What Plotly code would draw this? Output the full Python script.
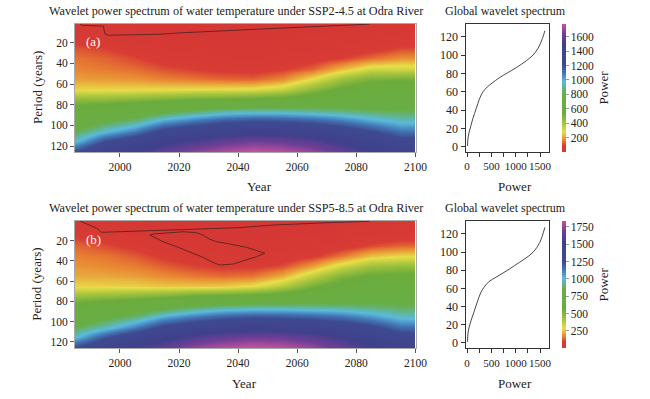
import plotly.graph_objects as go

# ---------------- data ----------------
years = [1985, 1995, 2005, 2015, 2025, 2035, 2045, 2055, 2065, 2075, 2085, 2095]
periods = [5, 15, 25, 35, 45, 55, 65, 75, 85, 95, 105, 115, 125]

# wavelet power, SSP2-4.5 (columns = years, rows = periods)
power_a_cols = [
    [25, 60, 115, 145, 165, 198, 265, 460, 600, 700, 820, 970, 1200],
    [14, 40, 90, 130, 155, 192, 265, 470, 640, 790, 960, 1200, 1400],
    [8, 22, 55, 100, 140, 185, 265, 490, 690, 860, 1080, 1330, 1480],
    [5, 12, 30, 60, 110, 165, 270, 520, 760, 1000, 1260, 1450, 1580],
    [5, 10, 20, 45, 90, 150, 275, 550, 820, 1080, 1340, 1520, 1670],
    [5, 10, 15, 35, 70, 135, 280, 560, 880, 1150, 1390, 1590, 1730],
    [5, 10, 15, 30, 65, 130, 285, 580, 900, 1180, 1430, 1630, 1770],
    [5, 10, 18, 40, 85, 170, 330, 600, 900, 1170, 1410, 1610, 1750],
    [5, 12, 25, 60, 130, 280, 450, 650, 880, 1140, 1380, 1560, 1690],
    [8, 15, 40, 90, 230, 420, 560, 700, 860, 1080, 1300, 1470, 1590],
    [10, 25, 60, 140, 320, 500, 620, 720, 830, 1000, 1210, 1370, 1480],
    [20, 45, 100, 180, 320, 510, 620, 720, 820, 940, 1100, 1270, 1390],
]
# wavelet power, SSP5-8.5
power_b_cols = [
    [35, 85, 140, 165, 190, 220, 275, 440, 600, 720, 850, 1000, 1250],
    [22, 60, 110, 155, 178, 215, 270, 460, 650, 800, 960, 1220, 1420],
    [12, 35, 75, 125, 162, 205, 265, 480, 700, 880, 1110, 1380, 1540],
    [8, 20, 40, 80, 130, 180, 255, 510, 770, 1020, 1290, 1490, 1630],
    [5, 10, 25, 50, 100, 160, 250, 560, 850, 1110, 1380, 1590, 1740],
    [5, 8, 15, 35, 80, 145, 260, 580, 900, 1170, 1440, 1650, 1800],
    [5, 8, 15, 35, 80, 155, 290, 600, 920, 1200, 1470, 1680, 1830],
    [5, 10, 20, 50, 110, 220, 380, 630, 920, 1190, 1450, 1670, 1810],
    [5, 12, 30, 80, 200, 360, 520, 690, 910, 1170, 1420, 1620, 1750],
    [8, 20, 60, 160, 330, 500, 620, 740, 900, 1130, 1360, 1540, 1650],
    [12, 40, 110, 250, 430, 570, 680, 770, 880, 1060, 1280, 1440, 1540],
    [20, 60, 140, 280, 450, 580, 680, 770, 860, 970, 1150, 1330, 1440],
]

# significance contours (year, period)
sig_a_year = [1986.5, 1987.1, 1994.4, 1994.9, 1996.0, 2004, 2013.5, 2020.3, 2030, 2040.5, 2051.8, 2068.7, 2084.5]
sig_a_per = [2.0, 3.0, 3.9, 11.0, 12.7, 12.3, 11.7, 10.4, 9.0, 7.8, 6.2, 3.9, 2.0]

sig_b_year = [1986.5, 1987.1, 1992.1, 1993.8, 2000, 2013.5, 2030.4, 2040.5, 2051.8, 2063.1, 2072, 2084.5]
sig_b_per = [0.5, 1.2, 7.7, 11.7, 11.1, 9.4, 8.4, 7.1, 4.5, 2.8, 2.0, 0.8]

sig_b2_year = [2010.1, 2011.3, 2016.9, 2021.4, 2025.9, 2028.1, 2030.4, 2032.7, 2036.0, 2039.4, 2042.8,
               2045.0, 2048.4, 2049.0, 2046.2, 2042.8, 2038.3, 2033.8, 2031.0, 2028.1, 2023.6, 2019.2,
               2014.6, 2010.1]
sig_b2_per = [14.4, 13.4, 12.1, 11.1, 12.1, 14.4, 18.6, 21.0, 22.6, 24.3, 26.5,
              28.5, 31.5, 32.5, 35.8, 39.1, 43.1, 44.1, 40.8, 36.4, 30.9, 25.9,
              21.0, 14.4]

# global wavelet spectra
gws_a_power = [10, 21, 71, 119, 188, 258, 327, 417, 521, 660, 833, 1008, 1217, 1354, 1458, 1550, 1598]
gws_a_period = [1, 10.9, 21.8, 31, 41.9, 52.8, 60, 65.4, 69.8, 75.2, 80.7, 86.2, 93.8, 100, 107.3, 118.2, 126.5]
gws_b_power = [10, 21, 71, 140, 208, 279, 348, 452, 592, 765, 973, 1181, 1354, 1494, 1598]
gws_b_period = [1, 11.7, 22.7, 33.7, 44.7, 55, 61.2, 67.5, 72.2, 77.7, 85, 92.4, 99.7, 110.7, 127.2]

year_ticks = [2000, 2020, 2040, 2060, 2080, 2100]
period_ticks = [20, 40, 60, 80, 100, 120]
gws_y_ticks = [0, 20, 40, 60, 80, 100, 120]
gws_x_ticks = [0, 500, 1000, 1500]
cbar_a_ticks = [200, 400, 600, 800, 1000, 1200, 1400, 1600]
cbar_b_ticks = [250, 500, 750, 1000, 1250, 1500, 1750]

titles = ["Wavelet power spectrum of water temperature under SSP2-4.5 at Odra River",
          "Wavelet power spectrum of water temperature under SSP5-8.5 at Odra River"]
panel_letters = ["(a)", "(b)"]

# ---------------- style ----------------
FONT = "Liberation Serif"
TXT = "#222222"
W, H = 650, 399

colorscale = [
    [0.00, "rgb(213,56,52)"],
    [0.05, "rgb(216,60,52)"],
    [0.09, "rgb(232,128,50)"],
    [0.155, "rgb(232,222,72)"],
    [0.22, "rgb(170,198,62)"],
    [0.30, "rgb(108,172,60)"],
    [0.46, "rgb(104,174,70)"],
    [0.55, "rgb(90,186,220)"],
    [0.62, "rgb(66,116,180)"],
    [0.68, "rgb(62,74,144)"],
    [0.84, "rgb(64,64,140)"],
    [0.92, "rgb(112,62,150)"],
    [1.00, "rgb(196,82,158)"],
]


def transpose(cols):
    return [list(r) for r in zip(*cols)]


def px(x):
    return x / W


def py(y):
    return 1 - y / H


fig = go.Figure()

panels = [
    dict(cols=power_a_cols, cmax=1776, cticks=cbar_a_ticks, top=24, bot=152,
         yr=[125.8, 1.8], gy=[-5.5, 133.8],
         sig=[(sig_a_year, sig_a_per)], gx=gws_a_power, gyv=gws_a_period,
         year_x=259, xlab_y=186.7),
    dict(cols=power_b_cols, cmax=1832, cticks=cbar_b_ticks, top=221, bot=348.3,
         yr=[126.5, 0.5], gy=[-6.2, 134.3],
         sig=[(sig_b_year, sig_b_per), (sig_b2_year, sig_b2_per)], gx=gws_b_power, gyv=gws_b_period,
         year_x=244, xlab_y=383.3),
]

annotations = []
for i, p in enumerate(panels):
    n = i * 2
    xa = "x" if n == 0 else f"x{n+1}"
    ya = "y" if n == 0 else f"y{n+1}"
    xg = f"x{n+2}"
    yg = f"y{n+2}"
    ydom = [py(p["bot"]), py(p["top"])]

    fig.add_trace(go.Heatmap(
        x=years, y=periods, z=transpose(p["cols"]), zsmooth="best",
        colorscale=colorscale, zmin=0, zmax=p["cmax"], xaxis=xa, yaxis=ya,
        colorbar=dict(x=px(561.7), xanchor="left", xpad=0, ypad=0,
                      y=ydom[0], yanchor="bottom", len=ydom[1] - ydom[0], lenmode="fraction",
                      thickness=4, outlinewidth=0, tickvals=p["cticks"],
                      ticks="outside", ticklen=3, tickcolor="#999999",
                      tickfont=dict(family=FONT, size=11.5, color=TXT),
                      title=dict(text="Power", side="right", font=dict(family=FONT, size=13, color=TXT))),
    ))
    for sx, sy in p["sig"]:
        fig.add_trace(go.Scatter(x=sx, y=sy, mode="lines", xaxis=xa, yaxis=ya,
                                 line=dict(color="#5a2424", width=0.9), showlegend=False, hoverinfo="skip"))
    fig.add_trace(go.Scatter(x=p["gx"], y=p["gyv"], mode="lines", xaxis=xg, yaxis=yg,
                             line=dict(color="#333333", width=0.9, shape="spline"), showlegend=False))

    hmfont = dict(family=FONT, size=11.5, color=TXT)
    axfont = dict(family=FONT, size=12, color=TXT)
    fig.layout[("xaxis" if n == 0 else f"xaxis{n+1}")] = dict(
        domain=[px(75), px(416)], range=[1984.8, 2100.2], anchor=ya, tickvals=year_ticks,
        ticks="outside", ticklen=4, tickcolor="#555555", tickfont=hmfont, tickangle=0,
        showgrid=False, zeroline=False, showline=True, mirror=True, linecolor="#aaaaaa", linewidth=1)
    fig.layout[("yaxis" if n == 0 else f"yaxis{n+1}")] = dict(
        domain=ydom, range=p["yr"], anchor=xa, tickvals=period_ticks,
        ticks="outside", ticklen=4, tickcolor="#555555", tickfont=hmfont,
        showgrid=False, zeroline=False, showline=True, mirror=True, linecolor="#aaaaaa", linewidth=1)
    fig.layout[f"xaxis{n+2}"] = dict(
        domain=[px(465.5), px(549.3)], range=[-33, 1690], anchor=yg, tickvals=gws_x_ticks,
        ticktext=[str(v) for v in gws_x_ticks], tickangle=0,
        ticks="outside", ticklen=4, tickcolor="#333333", tickfont=dict(family=FONT, size=11, color=TXT),
        minor=dict(dtick=250, tick0=0, ticks="outside", ticklen=4, tickcolor="#333333", showgrid=False),
        showgrid=False, zeroline=False, showline=True, mirror=True, linecolor="#333333", linewidth=1)
    fig.layout[f"yaxis{n+2}"] = dict(
        domain=ydom, range=p["gy"], anchor=xg, tickvals=gws_y_ticks,
        ticks="outside", ticklen=4, tickcolor="#333333", tickfont=axfont,
        showgrid=False, zeroline=False, showline=True, mirror=True, linecolor="#333333", linewidth=1)

    tf = dict(family=FONT, size=12.2, color=TXT)
    annotations += [
        dict(text=titles[i], x=px(47), y=py(p["top"] - 13), xref="paper", yref="paper",
             xanchor="left", yanchor="middle", showarrow=False, font=tf),
        dict(text="Global wavelet spectrum", x=px(443), y=py(p["top"] - 13), xref="paper", yref="paper",
             xanchor="left", yanchor="middle", showarrow=False, font=dict(family=FONT, size=12, color=TXT)),
        dict(text="Year", x=px(p["year_x"]), y=py(p["xlab_y"]), xref="paper", yref="paper",
             xanchor="center", yanchor="middle", showarrow=False, font=dict(family=FONT, size=13, color=TXT)),
        dict(text="Power", x=px(515), y=py(p["xlab_y"]), xref="paper", yref="paper",
             xanchor="center", yanchor="middle", showarrow=False, font=dict(family=FONT, size=13, color=TXT)),
        dict(text="Period (years)", x=px(37), y=(ydom[0] + ydom[1]) / 2, xref="paper", yref="paper",
             xanchor="center", yanchor="middle", textangle=-90, showarrow=False,
             font=dict(family=FONT, size=13, color=TXT)),
        dict(text=panel_letters[i], x=1987.7, y=19, xref=xa, yref=ya, xanchor="left", yanchor="middle",
             showarrow=False, font=dict(family=FONT, size=13, color="white")),
    ]

fig.update_layout(
    width=W, height=H, margin=dict(l=0, r=0, t=0, b=0, autoexpand=False),
    paper_bgcolor="white", plot_bgcolor="white", showlegend=False,
    annotations=annotations, font=dict(family=FONT, color=TXT),
)

fig.write_html("out.html", config={"displayModeBar": False},
               post_script="document.body.style.margin='0px';")
